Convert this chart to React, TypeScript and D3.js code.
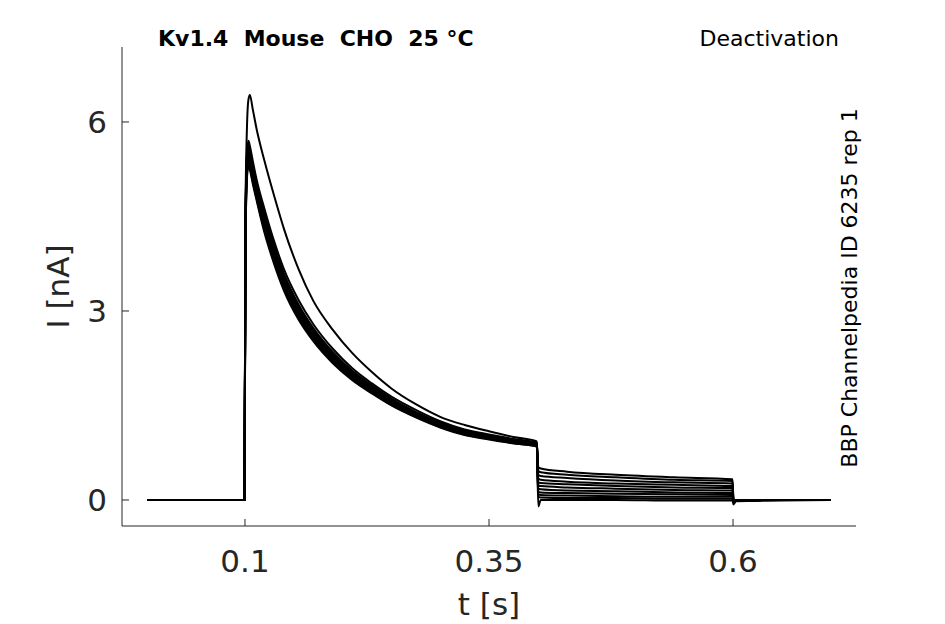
import React from "react";
import * as d3 from "d3";

// sample times [s]
const time = [0, 0.05, 0.0995, 0.1005, 0.102, 0.1035, 0.105, 0.108, 0.112, 0.12, 0.13, 0.14, 0.155, 0.17, 0.19, 0.21, 0.23, 0.25, 0.275, 0.3, 0.325, 0.35, 0.375, 0.399, 0.4005, 0.403, 0.43, 0.48, 0.54, 0.5995, 0.6005, 0.603, 0.65, 0.7];

// current traces [nA]
const traceA = [0, 0, 0, 4.6, 5.9, 6.35, 6.43, 6.2, 5.88, 5.38, 4.82, 4.3, 3.66, 3.16, 2.7, 2.33, 2.03, 1.77, 1.52, 1.32, 1.19, 1.09, 1.0, 0.93, 0.28, 0.27, 0.25, 0.22, 0.2, 0.19, -0.03, -0.01, 0, 0];
const traceB1 = [0, 0, 0, 4.5, 5.5, 5.7, 5.62, 5.38, 5.08, 4.62, 4.1, 3.66, 3.17, 2.79, 2.4, 2.09, 1.85, 1.64, 1.43, 1.25, 1.12, 1.04, 0.97, 0.91, 0.52, 0.5, 0.45, 0.4, 0.36, 0.33, -0.03, -0.01, 0, 0];
const traceB2 = [0, 0, 0, 4.4, 5.45, 5.62, 5.55, 5.3, 5.0, 4.55, 4.03, 3.59, 3.1, 2.73, 2.35, 2.05, 1.82, 1.61, 1.4, 1.23, 1.1, 1.02, 0.95, 0.9, 0.46, 0.44, 0.4, 0.36, 0.32, 0.3, -0.03, -0.01, 0, 0];
const traceB3 = [0, 0, 0, 4.3, 5.4, 5.56, 5.48, 5.25, 4.96, 4.5, 3.98, 3.55, 3.06, 2.7, 2.32, 2.03, 1.8, 1.59, 1.38, 1.21, 1.09, 1.01, 0.94, 0.89, 0.4, 0.38, 0.35, 0.31, 0.28, 0.26, -0.03, -0.01, 0, 0];
const traceB4 = [0, 0, 0, 4.35, 5.35, 5.52, 5.45, 5.22, 4.93, 4.47, 3.95, 3.52, 3.04, 2.68, 2.31, 2.01, 1.78, 1.58, 1.37, 1.2, 1.08, 1.0, 0.93, 0.88, 0.34, 0.32, 0.29, 0.26, 0.24, 0.22, -0.03, -0.01, 0, 0];
const traceB5 = [0, 0, 0, 4.2, 5.3, 5.5, 5.42, 5.2, 4.92, 4.45, 3.93, 3.5, 3.02, 2.66, 2.29, 2.0, 1.77, 1.57, 1.36, 1.2, 1.08, 1.0, 0.93, 0.88, 0.23, 0.22, 0.2, 0.18, 0.16, 0.15, -0.03, -0.01, 0, 0];
const traceB6 = [0, 0, 0, 4.25, 5.28, 5.46, 5.39, 5.16, 4.88, 4.41, 3.89, 3.47, 2.99, 2.63, 2.27, 1.98, 1.75, 1.55, 1.35, 1.19, 1.07, 0.99, 0.92, 0.87, 0.18, 0.17, 0.15, 0.14, 0.12, 0.11, -0.03, -0.01, 0, 0];
const traceB7 = [0, 0, 0, 4.1, 5.25, 5.42, 5.35, 5.13, 4.85, 4.37, 3.86, 3.44, 2.96, 2.61, 2.25, 1.96, 1.74, 1.54, 1.34, 1.18, 1.06, 0.98, 0.92, 0.87, 0.13, 0.12, 0.11, 0.1, 0.09, 0.08, -0.03, -0.01, 0, 0];
const traceB8 = [0, 0, 0, 4.15, 5.2, 5.38, 5.31, 5.1, 4.82, 4.33, 3.82, 3.4, 2.93, 2.58, 2.22, 1.94, 1.72, 1.53, 1.33, 1.17, 1.05, 0.97, 0.91, 0.86, 0.09, 0.08, 0.07, 0.06, 0.05, 0.05, -0.03, -0.01, 0, 0];
const traceB9 = [0, 0, 0, 4.0, 5.15, 5.34, 5.28, 5.06, 4.78, 4.28, 3.78, 3.36, 2.9, 2.55, 2.2, 1.92, 1.71, 1.51, 1.32, 1.16, 1.04, 0.97, 0.9, 0.85, 0.05, 0.04, 0.03, 0.03, 0.02, 0.02, -0.03, -0.01, 0, 0];
const traceB10 = [0, 0, 0, 4.05, 5.1, 5.3, 5.24, 5.02, 4.75, 4.24, 3.74, 3.32, 2.86, 2.52, 2.17, 1.9, 1.69, 1.5, 1.31, 1.15, 1.03, 0.96, 0.9, 0.85, -0.1, 0.0, 0.0, 0.0, -0.01, -0.01, -0.07, -0.02, -0.01, 0];

const xTicks = [0.1, 0.35, 0.6];
const yTicks = [0, 3, 6];
const titleText = "Kv1.4  Mouse  CHO  25 °C";
const protocolText = "Deactivation";
const sourceText = "BBP Channelpedia ID 6235 rep 1";
const xLabel = "t [s]";
const yLabel = "I [nA]";

const traces = [traceB10, traceB9, traceB8, traceB7, traceB6, traceB5, traceB4, traceB3, traceB2, traceB1, traceA];

const W = 945;
const H = 624;
const axisColor = "#262626";
const font = "'DejaVu Sans', sans-serif";

export default function App() {
  const x = d3.scaleLinear().domain([-0.026, 0.726]).range([122, 856]);
  const y = d3.scaleLinear().domain([-0.413, 7.19]).range([526, 47]);
  const x0 = x.range()[0];
  const x1 = x.range()[1];
  const yb = y.range()[0];
  const yt = y.range()[1];

  const line = d3
    .line<number>()
    .x((_, i) => x(time[i]))
    .y((d) => y(d))
    .curve(d3.curveMonotoneX);

  return (
    <div style={{ position: "fixed", left: 0, top: 0, width: W, height: H, background: "#fff" }}>
      <svg width={W} height={H} viewBox={`0 0 ${W} ${H}`} style={{ display: "block" }}>
        <rect width={W} height={H} fill="#fff" />
        {traces.map((tr, k) => (
          <path key={k} d={line(tr) || ""} fill="none" stroke="#000" strokeWidth={2} strokeLinejoin="round" />
        ))}
        {/* axes */}
        <line x1={x0} x2={x0} y1={yt} y2={yb} stroke={axisColor} strokeWidth={1} />
        <line x1={x0} x2={x1} y1={yb} y2={yb} stroke={axisColor} strokeWidth={1} />
        {xTicks.map((t) => (
          <g key={t}>
            <line x1={x(t)} x2={x(t)} y1={yb} y2={yb - 7} stroke={axisColor} strokeWidth={1} />
            <text x={x(t)} y={572} textAnchor="middle" fontFamily={font} fontSize={31} fill={axisColor}>
              {String(t)}
            </text>
          </g>
        ))}
        {yTicks.map((v) => (
          <g key={v}>
            <line x1={x0} x2={x0 + 7} y1={y(v)} y2={y(v)} stroke={axisColor} strokeWidth={1} />
            <text x={107} y={y(v) + 11} textAnchor="end" fontFamily={font} fontSize={31} fill={axisColor}>
              {String(v)}
            </text>
          </g>
        ))}
        <text x={(x0 + x1) / 2} y={615} textAnchor="middle" fontFamily={font} fontSize={31} fill={axisColor}>
          {xLabel}
        </text>
        <text
          transform={`translate(69, ${(yt + yb) / 2}) rotate(-90)`}
          textAnchor="middle"
          fontFamily={font}
          fontSize={31}
          fill={axisColor}
        >
          {yLabel}
        </text>
        <text x={158} y={46} fontFamily={font} fontSize={22} fontWeight="bold" fill="#000" style={{ whiteSpace: "pre" }}>
          {titleText}
        </text>
        <text x={839} y={46} textAnchor="end" fontFamily={font} fontSize={22} fill="#000">
          {protocolText}
        </text>
        <text
          transform={`translate(857, 288) rotate(-90)`}
          textAnchor="middle"
          fontFamily={font}
          fontSize={22}
          fill="#000"
        >
          {sourceText}
        </text>
      </svg>
    </div>
  );
}
